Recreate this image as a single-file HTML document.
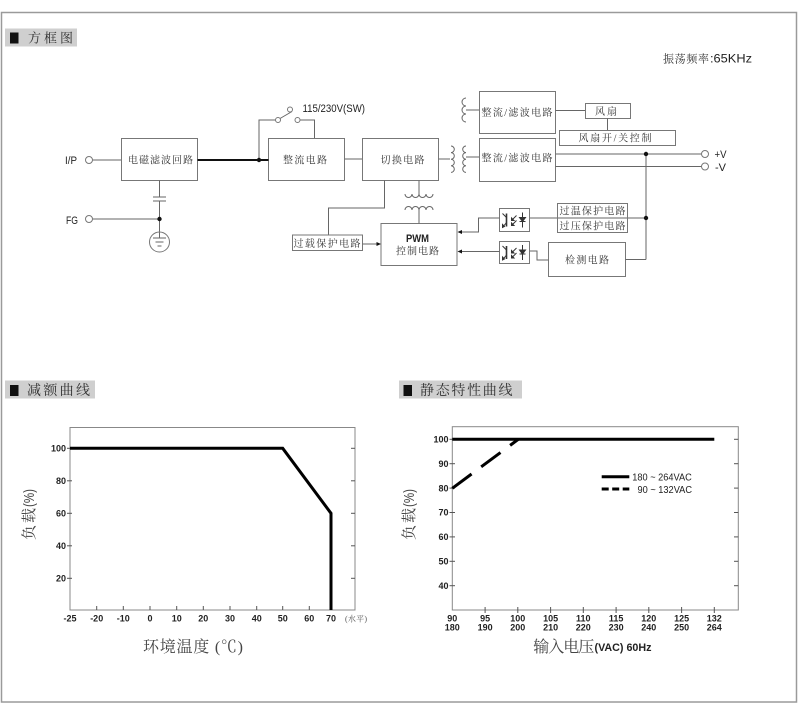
<!DOCTYPE html>
<html><head><meta charset="utf-8"><style>
html,body{margin:0;padding:0;background:#fff;}
svg{display:block;}
.cj{font-family:"Liberation Serif","Noto Serif CJK SC",serif;}
.ln{font-family:"Liberation Sans",sans-serif;}
</style></head><body>
<svg width="800" height="714" viewBox="0 0 800 714" xmlns="http://www.w3.org/2000/svg">
<rect x="0" y="0" width="800" height="714" fill="#fff"/>
<rect x="1.5" y="12.5" width="795" height="689.5" fill="none" stroke="#9a9a9a" stroke-width="1.5"/>

<rect x="5" y="28.5" width="72" height="18" fill="#cfcfcf"/>
<rect x="10" y="32.5" width="8.5" height="11" fill="#111"/>
<text class="cj" x="28" y="42.5" font-size="13" fill="#333" textLength="45" lengthAdjust="spacing">方框图</text>

<text class="cj" x="663" y="62.5" font-size="11" fill="#333" textLength="46" lengthAdjust="spacing">振荡频率</text>
<text class="ln" x="710" y="62.5" font-size="11.5" fill="#222" textLength="42" lengthAdjust="spacingAndGlyphs">:65KHz</text>

<g stroke="#666" stroke-width="1" fill="none">
  <line x1="92.5" y1="160" x2="121.5" y2="160"/>
  <rect x="121.5" y="138.5" width="76" height="42" stroke="#777"/>
  <line x1="159.5" y1="180.5" x2="159.5" y2="197"/>
  <line x1="153" y1="197" x2="166" y2="197"/>
  <line x1="153" y1="201" x2="166" y2="201"/>
  <line x1="159.5" y1="201" x2="159.5" y2="238"/>
  <line x1="92.5" y1="219" x2="159.5" y2="219"/>
  <circle cx="159.5" cy="242" r="10" stroke="#777"/>
  <line x1="153" y1="238" x2="166" y2="238"/>
  <line x1="155.5" y1="242" x2="163.5" y2="242"/>
  <line x1="157.5" y1="246" x2="161.5" y2="246"/>
  <polyline points="259,160 259,120 275.5,120"/>
  <line x1="280" y1="118.5" x2="292" y2="111.5"/>
  <polyline points="300,120 314.5,120 314.5,138.5"/>
  <rect x="268.5" y="138.5" width="76" height="42" stroke="#777"/>
  <line x1="344.5" y1="159" x2="362.5" y2="159"/>
  <rect x="362.5" y="138.5" width="76" height="42" stroke="#777"/>
  <line x1="438.5" y1="159" x2="450" y2="159"/>
  <path d="M451 146 a3.3 3.3 0 0 1 0 6.6 a3.3 3.3 0 0 1 0 6.6 a3.3 3.3 0 0 1 0 6.6 a3.3 3.3 0 0 1 0 6.6"/>
  <path d="M466 146 a3.3 3.3 0 0 0 0 6.6 a3.3 3.3 0 0 0 0 6.6 a3.3 3.3 0 0 0 0 6.6 a3.3 3.3 0 0 0 0 6.6"/>
  <line x1="466" y1="157" x2="479.5" y2="157"/>
  <path d="M466 98 a3.5 3.5 0 0 0 0 8 a3.5 3.5 0 0 0 0 8 a3.5 3.5 0 0 0 0 8"/>
  <line x1="466" y1="110" x2="479.5" y2="110"/>
  <rect x="479.5" y="91.5" width="76" height="42" stroke="#777"/>
  <rect x="479.5" y="138.5" width="76" height="43" stroke="#777"/>
  <line x1="555.5" y1="110.5" x2="585.5" y2="110.5"/>
  <rect x="585.5" y="103.5" width="45" height="15" stroke="#777"/>
  <line x1="607.5" y1="118.5" x2="607.5" y2="130.5"/>
  <rect x="559.5" y="130.5" width="116" height="15" stroke="#777"/>
  <line x1="555.5" y1="154" x2="701.5" y2="154"/>
  <line x1="555.5" y1="166.5" x2="701.5" y2="166.5"/>
  <line x1="646" y1="154" x2="646" y2="259.5"/>
  <line x1="530" y1="218" x2="646" y2="218"/>
  <rect x="557.5" y="203.5" width="70" height="29" stroke="#777"/>
  <rect x="548.5" y="242.5" width="77" height="34" stroke="#777"/>
  <line x1="625.5" y1="259.5" x2="646" y2="259.5"/>
  <polyline points="529.5,251 537,251 537,260 548.5,260"/>
  <rect x="499.5" y="208.5" width="30" height="23" stroke="#777"/>
  <rect x="499.5" y="241.5" width="30" height="22" stroke="#777"/>
  <polyline points="499.5,218 478.5,218 478.5,232 460,232"/>
  <line x1="499.5" y1="251.5" x2="460" y2="251.5"/>
  <rect x="381" y="223.5" width="76" height="42" stroke="#777"/>
  <polyline points="384.5,180.5 384.5,208 328.5,208 328.5,235"/>
  <rect x="292.5" y="235" width="70" height="15.5" stroke="#777"/>
  <line x1="362.5" y1="244" x2="377" y2="244"/>
  <line x1="419" y1="180.5" x2="419" y2="194"/>
  <path d="M405 194 a3.5 3.5 0 0 0 7 0 a3.5 3.5 0 0 0 7 0 a3.5 3.5 0 0 0 7 0 a3.5 3.5 0 0 0 7 0"/>
  <path d="M405 210 a3.5 3.5 0 0 1 7 0 a3.5 3.5 0 0 1 7 0 a3.5 3.5 0 0 1 7 0 a3.5 3.5 0 0 1 7 0"/>
  <line x1="419" y1="210" x2="419" y2="223.5"/>
</g>
<line x1="197.5" y1="160" x2="268.5" y2="160" stroke="#111" stroke-width="2"/>
<g fill="#111">
  <circle cx="259" cy="160" r="2.2"/>
  <circle cx="159.5" cy="219" r="2.2"/>
  <circle cx="646" cy="154" r="2.2"/>
  <circle cx="646" cy="218" r="2.2"/>
  <polygon points="457.5,232 462,230 462,234"/>
  <polygon points="457.5,251.5 462,249.5 462,253.5"/>
  <polygon points="381,244 376.5,242 376.5,246"/>
</g>
<g fill="#fff" stroke="#777" stroke-width="1">
  <circle cx="89" cy="160" r="3.5"/>
  <circle cx="89" cy="219" r="3.5"/>
  <circle cx="278" cy="120" r="2.5"/>
  <circle cx="297.5" cy="120" r="2.5"/>
  <circle cx="290" cy="109.5" r="2.5"/>
  <circle cx="705" cy="154" r="3.5"/>
  <circle cx="705" cy="166.5" r="3.5"/>
</g>
<g stroke="#333" stroke-width="1" fill="none">
  <g transform="translate(499.5,208.5)">
    <line x1="7" y1="5" x2="7" y2="18" stroke-width="1.6"/>
    <line x1="3" y1="5" x2="7" y2="9"/>
    <line x1="7" y1="14" x2="3" y2="19"/>
    <line x1="17" y1="7" x2="12" y2="12"/>
    <line x1="17" y1="12" x2="12" y2="17"/>
    <line x1="23" y1="4" x2="23" y2="19"/>
    <line x1="20" y1="13" x2="26" y2="13"/>
    <polygon points="20,9 26,9 23,13" fill="#333"/>
    <polygon points="3,19 3,16 5,18" fill="#333"/>
    <polygon points="12,12 12,9.5 14.5,12" fill="#333"/>
    <polygon points="12,17 12,14.5 14.5,17" fill="#333"/>
  </g>
  <g transform="translate(499.5,241)">
    <line x1="7" y1="5" x2="7" y2="18" stroke-width="1.6"/>
    <line x1="3" y1="5" x2="7" y2="9"/>
    <line x1="7" y1="14" x2="3" y2="19"/>
    <line x1="17" y1="7" x2="12" y2="12"/>
    <line x1="17" y1="12" x2="12" y2="17"/>
    <line x1="23" y1="4" x2="23" y2="19"/>
    <line x1="20" y1="13" x2="26" y2="13"/>
    <polygon points="20,9 26,9 23,13" fill="#333"/>
    <polygon points="3,19 3,16 5,18" fill="#333"/>
    <polygon points="12,12 12,9.5 14.5,12" fill="#333"/>
    <polygon points="12,17 12,14.5 14.5,17" fill="#333"/>
  </g>
</g>

<g class="cj" font-size="10" fill="#333">
  <text x="128" y="163.5" textLength="65" lengthAdjust="spacing">电磁滤波回路</text>
  <text x="283" y="163.5" textLength="44" lengthAdjust="spacing">整流电路</text>
  <text x="380.5" y="163.5" textLength="44" lengthAdjust="spacing">切换电路</text>
  <text x="481.5" y="116" textLength="71" lengthAdjust="spacing">整流/滤波电路</text>
  <text x="481.5" y="161.5" textLength="71" lengthAdjust="spacing">整流/滤波电路</text>
  <text x="595" y="115" textLength="22" lengthAdjust="spacing">风扇</text>
  <text x="578.5" y="141.5" textLength="73" lengthAdjust="spacing">风扇开/关控制</text>
  <text x="559.5" y="214.5" textLength="66" lengthAdjust="spacing">过温保护电路</text>
  <text x="559.5" y="229.5" textLength="66" lengthAdjust="spacing">过压保护电路</text>
  <text x="565" y="263.5" textLength="44" lengthAdjust="spacing">检测电路</text>
  <text x="293.5" y="247" textLength="67" lengthAdjust="spacing">过载保护电路</text>
  <text x="396" y="254.5" textLength="43" lengthAdjust="spacing">控制电路</text>
</g>
<g class="ln" font-size="11" fill="#222">
  <text x="406" y="242" font-weight="bold" textLength="23" lengthAdjust="spacingAndGlyphs">PWM</text>
  <text x="65" y="164" textLength="12" lengthAdjust="spacingAndGlyphs">I/P</text>
  <text x="66" y="224" textLength="12" lengthAdjust="spacingAndGlyphs">FG</text>
  <text x="714.5" y="158" textLength="12" lengthAdjust="spacingAndGlyphs">+V</text>
  <text x="715" y="171" textLength="11" lengthAdjust="spacingAndGlyphs">-V</text>
  <text x="302.5" y="112" textLength="62.5" lengthAdjust="spacingAndGlyphs">115/230V(SW)</text>
</g>

<rect x="5" y="380.5" width="90" height="18" fill="#cfcfcf"/>
<rect x="10" y="385" width="8.5" height="11" fill="#111"/>
<text class="cj" x="27" y="395" font-size="14" fill="#333" textLength="63" lengthAdjust="spacing">减额曲线</text>

<rect x="70" y="427.5" width="285" height="182.5" fill="none" stroke="#888" stroke-width="1"/>
<g stroke="#555" stroke-width="1">
  <line x1="67" y1="448.3" x2="72" y2="448.3"/><line x1="351" y1="448.3" x2="355" y2="448.3"/>
  <line x1="67" y1="480.8" x2="72" y2="480.8"/><line x1="351" y1="480.8" x2="355" y2="480.8"/>
  <line x1="67" y1="513.3" x2="72" y2="513.3"/><line x1="351" y1="513.3" x2="355" y2="513.3"/>
  <line x1="67" y1="545.8" x2="72" y2="545.8"/><line x1="351" y1="545.8" x2="355" y2="545.8"/>
  <line x1="67" y1="578.3" x2="72" y2="578.3"/><line x1="351" y1="578.3" x2="355" y2="578.3"/>
  <line x1="96.7" y1="606" x2="96.7" y2="610"/>
  <line x1="123.3" y1="606" x2="123.3" y2="610"/>
  <line x1="150" y1="606" x2="150" y2="610"/>
  <line x1="176.7" y1="606" x2="176.7" y2="610"/>
  <line x1="203.3" y1="606" x2="203.3" y2="610"/>
  <line x1="230" y1="606" x2="230" y2="610"/>
  <line x1="256.7" y1="606" x2="256.7" y2="610"/>
  <line x1="282.7" y1="606" x2="282.7" y2="610"/>
  <line x1="309.3" y1="606" x2="309.3" y2="610"/>
</g>
<g class="ln" font-size="9" font-weight="bold" fill="#222" text-anchor="end">
  <text x="66" y="451.5">100</text>
  <text x="66" y="484">80</text>
  <text x="66" y="516.5">60</text>
  <text x="66" y="549">40</text>
  <text x="66" y="581.5">20</text>
</g>
<g class="ln" font-size="9" font-weight="bold" fill="#222" text-anchor="middle">
  <text x="70" y="621.5">-25</text>
  <text x="96.7" y="621.5">-20</text>
  <text x="123.3" y="621.5">-10</text>
  <text x="150" y="621.5">0</text>
  <text x="176.7" y="621.5">10</text>
  <text x="203.3" y="621.5">20</text>
  <text x="230" y="621.5">30</text>
  <text x="256.7" y="621.5">40</text>
  <text x="282.7" y="621.5">50</text>
  <text x="309.3" y="621.5">60</text>
  <text x="331" y="621.5">70</text>
</g>
<text class="cj" x="345" y="621.5" font-size="8" fill="#555" textLength="22" lengthAdjust="spacing">(水平)</text>
<polyline points="70,448.3 282.7,448.3 331,513.3 331,610" fill="none" stroke="#000" stroke-width="3"/>
<g transform="translate(34,540) rotate(-90)">
  <text class="cj" x="0" y="0" font-size="15" fill="#444" textLength="32" lengthAdjust="spacing">负载</text>
  <text class="ln" x="33" y="0" font-size="15" fill="#444" textLength="18" lengthAdjust="spacingAndGlyphs">(%)</text>
</g>
<text class="cj" x="143" y="652" font-size="16" fill="#444" textLength="100" lengthAdjust="spacing">环境温度 (℃)</text>

<rect x="399" y="380.5" width="123" height="18" fill="#cfcfcf"/>
<rect x="403.5" y="385" width="8.5" height="11" fill="#111"/>
<text class="cj" x="420" y="395" font-size="14" fill="#333" textLength="92.5" lengthAdjust="spacing">静态特性曲线</text>

<rect x="452.3" y="426.7" width="286" height="183.3" fill="none" stroke="#888" stroke-width="1"/>
<g stroke="#555" stroke-width="1">
  <line x1="449.5" y1="439.3" x2="455" y2="439.3"/><line x1="734" y1="439.3" x2="738.3" y2="439.3"/>
  <line x1="449.5" y1="463.7" x2="455" y2="463.7"/><line x1="734" y1="463.7" x2="738.3" y2="463.7"/>
  <line x1="449.5" y1="488.1" x2="455" y2="488.1"/><line x1="734" y1="488.1" x2="738.3" y2="488.1"/>
  <line x1="449.5" y1="512.5" x2="455" y2="512.5"/><line x1="734" y1="512.5" x2="738.3" y2="512.5"/>
  <line x1="449.5" y1="536.9" x2="455" y2="536.9"/><line x1="734" y1="536.9" x2="738.3" y2="536.9"/>
  <line x1="449.5" y1="561.3" x2="455" y2="561.3"/><line x1="734" y1="561.3" x2="738.3" y2="561.3"/>
  <line x1="449.5" y1="585.7" x2="455" y2="585.7"/><line x1="734" y1="585.7" x2="738.3" y2="585.7"/>
  <line x1="485.1" y1="607" x2="485.1" y2="613"/>
  <line x1="517.8" y1="607" x2="517.8" y2="613"/>
  <line x1="550.6" y1="607" x2="550.6" y2="613"/>
  <line x1="583.3" y1="607" x2="583.3" y2="613"/>
  <line x1="616.1" y1="607" x2="616.1" y2="613"/>
  <line x1="648.8" y1="607" x2="648.8" y2="613"/>
  <line x1="681.6" y1="607" x2="681.6" y2="613"/>
  <line x1="714.3" y1="607" x2="714.3" y2="613"/>
</g>
<g class="ln" font-size="9" font-weight="bold" fill="#222" text-anchor="end">
  <text x="448.5" y="442.5">100</text>
  <text x="448.5" y="467">90</text>
  <text x="448.5" y="491.3">80</text>
  <text x="448.5" y="515.7">70</text>
  <text x="448.5" y="540.1">60</text>
  <text x="448.5" y="564.5">50</text>
  <text x="448.5" y="588.9">40</text>
</g>
<g class="ln" font-size="9" font-weight="bold" fill="#222" text-anchor="middle">
  <text x="452.3" y="621.5">90</text><text x="452.3" y="630.5">180</text>
  <text x="485.1" y="621.5">95</text><text x="485.1" y="630.5">190</text>
  <text x="517.8" y="621.5">100</text><text x="517.8" y="630.5">200</text>
  <text x="550.6" y="621.5">105</text><text x="550.6" y="630.5">210</text>
  <text x="583.3" y="621.5">110</text><text x="583.3" y="630.5">220</text>
  <text x="616.1" y="621.5">115</text><text x="616.1" y="630.5">230</text>
  <text x="648.8" y="621.5">120</text><text x="648.8" y="630.5">240</text>
  <text x="681.6" y="621.5">125</text><text x="681.6" y="630.5">250</text>
  <text x="714.3" y="621.5">132</text><text x="714.3" y="630.5">264</text>
</g>
<line x1="452.3" y1="439.3" x2="714.3" y2="439.3" stroke="#000" stroke-width="3"/>
<line x1="452.3" y1="488.3" x2="518.3" y2="439.3" stroke="#000" stroke-width="3" stroke-dasharray="24 12"/>
<line x1="601.7" y1="476.7" x2="629.3" y2="476.7" stroke="#000" stroke-width="3"/>
<line x1="601.7" y1="489" x2="629.3" y2="489" stroke="#000" stroke-width="3" stroke-dasharray="7 3.5"/>
<text class="ln" x="632.3" y="480.5" font-size="10" fill="#222" textLength="59.5" lengthAdjust="spacingAndGlyphs">180 ~ 264VAC</text>
<text class="ln" x="637.5" y="493" font-size="10" fill="#222" textLength="54.5" lengthAdjust="spacingAndGlyphs">90 ~ 132VAC</text>
<g transform="translate(414,540) rotate(-90)">
  <text class="cj" x="0" y="0" font-size="15" fill="#444" textLength="32" lengthAdjust="spacing">负载</text>
  <text class="ln" x="33" y="0" font-size="15" fill="#444" textLength="18" lengthAdjust="spacingAndGlyphs">(%)</text>
</g>
<text class="cj" x="533.3" y="652" font-size="16" fill="#444" textLength="61" lengthAdjust="spacing">输入电压</text>
<text class="ln" x="594.5" y="651" font-size="11" font-weight="bold" fill="#222" textLength="57" lengthAdjust="spacingAndGlyphs">(VAC) 60Hz</text>
</svg>
</body></html>
